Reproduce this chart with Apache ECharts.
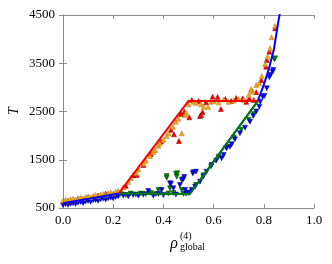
<!DOCTYPE html>
<html><head><meta charset="utf-8">
<script src="https://cdn.jsdelivr.net/npm/echarts@6/dist/echarts.min.js"></script>
<style>html,body{margin:0;padding:0;background:#fff}#c{width:332px;height:264px}</style>
</head><body><div id="c"></div>
<script>
var xTicks = [0, 0.2, 0.4, 0.6, 0.8, 1.0];
var yTicks = [500, 1500, 2500, 3500, 4500];

var orangePts = [[0,650],[0.01,670],[0.02,655],[0.03,680],[0.04,690],[0.05,675],[0.06,700],[0.07,715],[0.08,700],[0.09,730],[0.10,740],[0.11,725],[0.12,755],[0.13,770],[0.14,750],[0.15,780],[0.16,790],[0.17,775],[0.18,805],[0.19,820],[0.20,800],[0.21,835],[0.22,850],
[0.24,930],[0.26,1040],[0.27,1120],[0.29,1230],[0.30,1300],[0.32,1420],[0.33,1480],[0.347,1578],[0.36,1660],[0.367,1702],[0.38,1790],[0.386,1841],[0.40,1910],[0.413,1992],[0.42,2050],[0.438,2185],[0.45,2290],[0.46,2350],[0.473,2048],[0.49,2475],[0.487,2427],[0.50,2650],
[0.52,2700],[0.53,2680],[0.55,2650],[0.56,2600],[0.578,2593],[0.59,2700],[0.60,2720],[0.62,2690],[0.64,2750],[0.66,2700],[0.68,2730],[0.70,2760],[0.72,2740],[0.74,2842],[0.752,2946],[0.756,2910],[0.749,2960],
[0.77,3050],[0.782,3084],[0.792,3236],[0.805,3484],[0.815,3636],[0.825,3810],[0.831,4038],[0.845,4272]];

var redPts = [[0.02,640],[0.06,690],[0.10,725],[0.14,760],[0.17,800],[0.22,830],
[0.25,960],[0.28,1180],[0.294,1184],[0.32,1391],[0.35,1620],[0.39,1880],[0.43,2120],[0.442,2027],[0.462,1888],[0.47,2450],[0.483,2496],[0.503,2380],[0.546,2406],[0.55,2427],[0.556,2490],
[0.513,2738],[0.54,2720],[0.57,2690],[0.596,2807],[0.616,2800],[0.629,2552],[0.647,2759],[0.67,2720],[0.69,2780],[0.716,2773],[0.73,2700],[0.742,2773],[0.76,2740],
[0.77,2900],[0.79,3150],[0.809,3428],[0.812,3567],[0.822,3740],[0.845,4224]];

var bluePts = [[0,560],[0.01,580],[0.02,565],[0.03,590],[0.04,600],[0.05,585],[0.06,610],[0.07,625],[0.08,605],[0.09,635],[0.10,645],[0.11,630],[0.12,660],[0.13,670],[0.14,650],[0.15,680],[0.16,695],[0.17,675],[0.18,705],[0.19,715],[0.20,700],[0.21,730],[0.22,745],
[0.24,760],[0.26,745],[0.28,770],[0.30,755],[0.32,780],[0.34,852],[0.36,760],[0.38,790],[0.393,873],[0.40,770],[0.426,1012],[0.43,1004],[0.44,908],[0.45,780],[0.466,977],[0.473,1080],[0.479,1095],[0.483,1142],[0.486,873],[0.49,800],[0.50,820],
[0.513,873],[0.517,1219],[0.52,1240],[0.526,941],[0.53,1252],[0.546,1045],[0.559,1149],[0.572,1252],[0.592,1391],[0.61,1480],[0.632,1530],[0.64,1600],[0.652,1737],[0.665,1770],[0.672,1820],[0.685,1924],[0.705,2048],[0.725,2164],[0.745,2289],[0.758,2407],[0.77,2500],[0.782,2600],[0.786,2703],[0.796,2807],[0.802,2821],[0.812,2980],[0.822,3209],[0.827,3256],[0.835,3325],[0.838,3360]];

var greenPts = [[0.03,600],[0.08,620],[0.13,670],[0.18,710],[0.22,760],
[0.23,790],[0.25,770],[0.27,800],[0.29,780],[0.31,800],[0.33,790],[0.35,810],[0.37,790],[0.38,873],[0.413,1128],[0.413,1163],[0.42,800],[0.426,908],[0.44,810],[0.45,1211],[0.453,1149],[0.456,1219],[0.473,873],[0.48,790],[0.50,810],
[0.53,980],[0.56,1180],[0.59,1360],[0.62,1560],[0.65,1750],[0.68,1960],[0.71,2120],[0.74,2330],[0.76,2450],[0.842,3581],[0.845,3602]];

var redLine = [[0.223,810],[0.50,2720],[0.775,2720]];
var greenLine = [[0.223,800],[0.505,790],[0.777,2720]];
var blueLine = [[0,600],[0.223,800],[0.505,790],[0.776,2718],[0.80,3050],[0.82,3380],[0.84,3780],[0.86,4430],[0.875,4800]];

var serif = 'Liberation Serif';
var axisCol = '#8c8c8c';
var downTri = 'path://M0,0 L10,0 L5,9 Z';
var upTri = 'path://M5,0 L10,9 L0,9 Z';

function scatter(name, data, sym, fill, edge) {
  return {name: name, type: 'scatter', data: data, symbol: sym, symbolSize: [5, 5],
    itemStyle: {color: fill, borderColor: edge, borderWidth: 0.5, opacity: 1}, z: 2, silent: true, animation: false};
}
function line(name, data, col) {
  return {name: name, type: 'line', data: data, showSymbol: false, symbol: 'none',
    lineStyle: {color: col, width: 2}, z: 3, clip: true, silent: true, animation: false};
}

var chart = echarts.init(document.getElementById('c'), null, {renderer: 'canvas'});
chart.setOption({
  backgroundColor: '#fff',
  animation: false,
  grid: {left: 63, right: 18, top: 15, bottom: 56},
  xAxis: [
    {type: 'value', min: xTicks[0], max: xTicks[xTicks.length - 1], interval: 0.2, position: 'bottom',
     axisLine: {lineStyle: {color: axisCol, width: 1}}, splitLine: {show: false},
     axisTick: {inside: true, length: 4, lineStyle: {color: axisCol}},
     axisLabel: {fontFamily: serif, fontSize: 13, color: '#000', margin: 6, formatter: function (v) { return v.toFixed(1); }}},
    {type: 'value', min: xTicks[0], max: xTicks[xTicks.length - 1], interval: 0.2, position: 'top',
     axisLine: {lineStyle: {color: axisCol, width: 1}}, splitLine: {show: false},
     axisTick: {inside: true, length: 4, lineStyle: {color: axisCol}}, axisLabel: {show: false}}
  ],
  yAxis: [
    {type: 'value', min: yTicks[0], max: yTicks[yTicks.length - 1], interval: 1000, position: 'left',
     axisLine: {show: true, lineStyle: {color: axisCol, width: 1}}, splitLine: {show: false},
     axisTick: {show: true, inside: true, length: 4, lineStyle: {color: axisCol}},
     axisLabel: {fontFamily: serif, fontSize: 13, color: '#000', margin: 8, formatter: function (v) { return String(Math.round(v)); }}},
    {type: 'value', min: yTicks[0], max: yTicks[yTicks.length - 1], interval: 1000, position: 'right',
     axisLine: {show: true, lineStyle: {color: axisCol, width: 1}}, splitLine: {show: false},
     axisTick: {show: true, inside: true, length: 4, lineStyle: {color: axisCol}}, axisLabel: {show: false}}
  ],
  series: [
    scatter('green pts', greenPts, downTri, '#008000', '#0a4a0a'),
    scatter('blue pts', bluePts, downTri, '#0000ff', '#00007a'),
    scatter('red pts', redPts, upTri, '#ff0000', '#8a0000'),
    scatter('orange pts', orangePts, upTri, '#ffa500', '#9a7a40'),
    line('blue', blueLine, '#0000ff'),
    line('green', greenLine, '#008000'),
    line('red', redLine, '#ff0000')
  ],
  graphic: [
    {type: 'text', x: 14, y: 111, rotation: Math.PI / 2, style: {text: 'T', font: 'italic 14px ' + serif, fill: '#000', align: 'center', verticalAlign: 'middle'}},
    {type: 'text', x: 174, y: 244, style: {text: 'ρ', font: 'italic 16px ' + serif, fill: '#000', align: 'center', verticalAlign: 'middle'}},
    {type: 'text', x: 180, y: 236, style: {text: '(4)', font: '10px ' + serif, fill: '#000', align: 'left', verticalAlign: 'middle'}},
    {type: 'text', x: 180, y: 247, style: {text: 'global', font: '10px ' + serif, fill: '#000', align: 'left', verticalAlign: 'middle'}}
  ]
});
</script></body></html>
